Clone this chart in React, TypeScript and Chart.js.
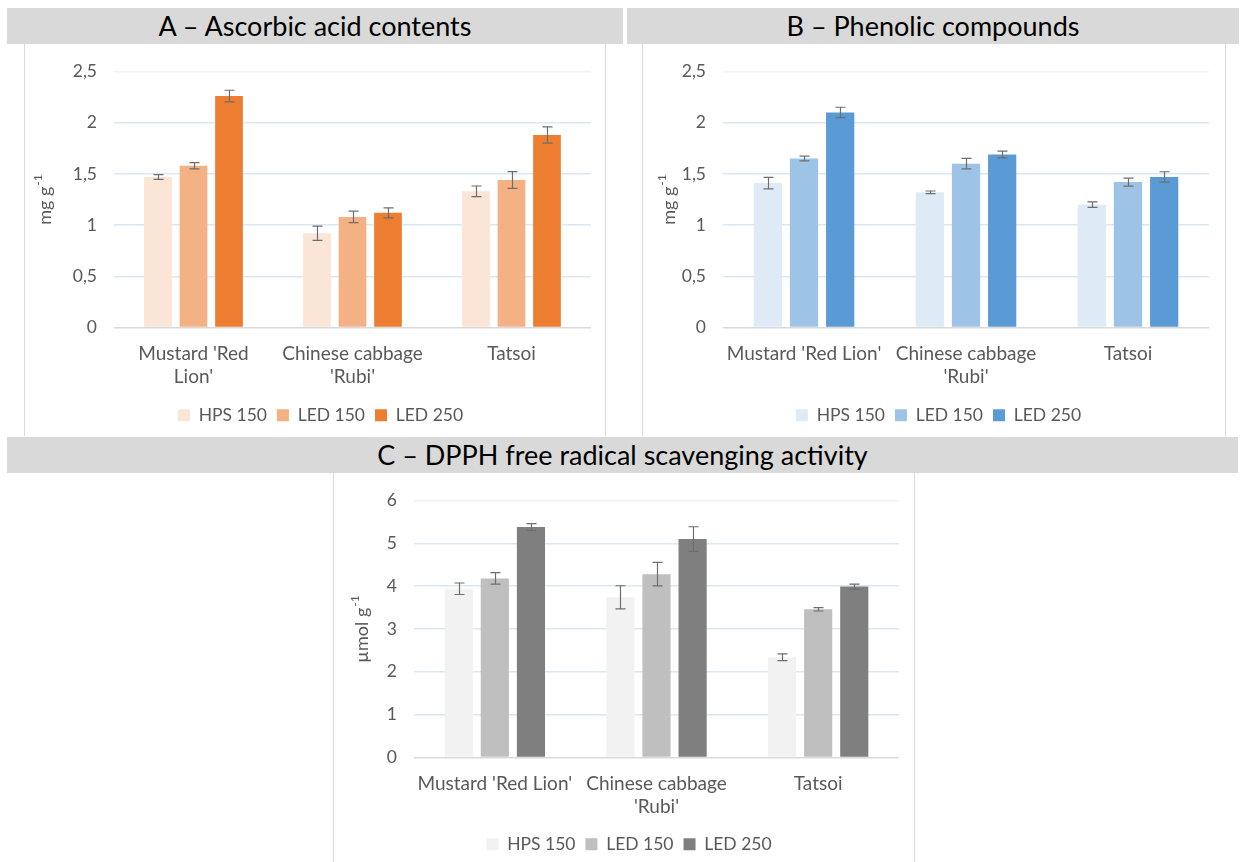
import React, { useEffect, useRef } from "react";
import { Chart, registerables } from "chart.js";

Chart.register(...registerables);

const FONT = "Lato, 'Open Sans', sans-serif";

// ---- data ----
const categoriesA = [["Mustard 'Red", "Lion'"], ["Chinese cabbage", "'Rubi'"], "Tatsoi"];
const categoriesBC = ["Mustard 'Red Lion'", ["Chinese cabbage", "'Rubi'"], "Tatsoi"];
const seriesNames = ["HPS 150", "LED 150", "LED 250"];

const ascorbicHPS150 = [1.47, 0.92, 1.33];
const ascorbicLED150 = [1.58, 1.08, 1.44];
const ascorbicLED250 = [2.26, 1.12, 1.88];
const ascorbicErrHPS150 = [0.023, 0.07, 0.052];
const ascorbicErrLED150 = [0.031, 0.056, 0.082];
const ascorbicErrLED250 = [0.057, 0.049, 0.079];

const phenolicHPS150 = [1.41, 1.32, 1.2];
const phenolicLED150 = [1.65, 1.6, 1.42];
const phenolicLED250 = [2.1, 1.69, 1.47];
const phenolicErrHPS150 = [0.056, 0.013, 0.026];
const phenolicErrLED150 = [0.023, 0.051, 0.039];
const phenolicErrLED250 = [0.051, 0.033, 0.051];

const dpphHPS150 = [3.94, 3.74, 2.34];
const dpphLED150 = [4.18, 4.28, 3.46];
const dpphLED250 = [5.38, 5.1, 3.99];
const dpphErrHPS150 = [0.134, 0.27, 0.079];
const dpphErrLED150 = [0.134, 0.275, 0.04];
const dpphErrLED250 = [0.079, 0.287, 0.059];

const ticksAB = [0, 0.5, 1, 1.5, 2, 2.5];
const ticksC = [0, 1, 2, 3, 4, 5, 6];

const orangeColors = ["#fbe5d6", "#f4b183", "#ed7d31"];
const blueColors = ["#deebf7", "#9dc3e6", "#5b9bd5"];
const greyColors = ["#f2f2f2", "#bfbfbf", "#7f7f7f"];

// ---- plugins ----
const errorBarPlugin = {
  id: "errorBars",
  afterDatasetsDraw(chart: any) {
    const ctx = chart.ctx;
    const yScale = chart.scales.y;
    ctx.save();
    ctx.strokeStyle = "#6e6e6e";
    ctx.lineWidth = 1.2;
    chart.data.datasets.forEach((ds: any, i: number) => {
      const meta = chart.getDatasetMeta(i);
      meta.data.forEach((bar: any, j: number) => {
        const v = ds.data[j];
        const e = ds.errors[j];
        const x = Math.round(bar.x) + 0.5;
        const yt = yScale.getPixelForValue(v + e);
        const yb = yScale.getPixelForValue(v - e);
        const cap = 5;
        ctx.beginPath();
        ctx.moveTo(x, yt);
        ctx.lineTo(x, yb);
        ctx.moveTo(x - cap, yt);
        ctx.lineTo(x + cap, yt);
        ctx.moveTo(x - cap, yb);
        ctx.lineTo(x + cap, yb);
        ctx.stroke();
      });
    });
    ctx.restore();
  },
};

const unitTitlePlugin = {
  id: "unitTitle",
  afterDraw(chart: any, _args: any, opts: any) {
    const ctx = chart.ctx;
    const area = chart.chartArea;
    const cy = (area.top + area.bottom) / 2;
    ctx.save();
    ctx.translate(opts.x, cy);
    ctx.rotate(-Math.PI / 2);
    ctx.fillStyle = "#595959";
    ctx.textBaseline = "middle";
    ctx.textAlign = "left";
    const baseFont = `18px ${FONT}`;
    const supFont = `12px ${FONT}`;
    ctx.font = baseFont;
    const wb = ctx.measureText(opts.text).width;
    ctx.font = supFont;
    const ws = ctx.measureText(opts.sup).width;
    const start = -(wb + ws + 1) / 2;
    ctx.font = baseFont;
    ctx.fillText(opts.text, start, 0);
    ctx.font = supFont;
    ctx.fillText(opts.sup, start + wb + 1, -7);
    ctx.restore();
  },
};

const PAD_LEFT = 25;

function makeConfig(
  labels: any[],
  series: number[][],
  errors: number[][],
  colors: string[],
  ticks: number[],
  p: { left: number; right: number; unit: string; sup: string; titleX: number; xHeight: number }
) {
  const fmt = (v: number) => String(v).replace(".", ",");
  return {
    type: "bar",
    data: {
      labels,
      datasets: series.map((d, i) => ({
        label: seriesNames[i],
        data: d,
        errors: errors[i],
        backgroundColor: colors[i],
        borderWidth: 0,
        categoryPercentage: 0.67,
        barPercentage: 0.78,
      })),
    },
    options: {
      responsive: false,
      animation: false,
      events: [],
      layout: { padding: { top: 27, right: p.right, left: PAD_LEFT, bottom: 2 } },
      plugins: {
        legend: {
          position: "bottom",
          labels: {
            boxWidth: 12,
            boxHeight: 12,
            padding: 10,
            color: "#595959",
            font: { family: FONT, size: 17.5 },
          },
        },
        tooltip: { enabled: false },
        unitTitle: { text: p.unit, sup: p.sup, x: p.titleX },
      },
      scales: {
        x: {
          grid: { display: false, drawTicks: false },
          border: { display: false },
          ticks: {
            color: "#595959",
            font: { family: FONT, size: 19 },
            padding: 15,
            maxRotation: 0,
            autoSkip: false,
          },
          afterFit: (s: any) => {
            s.height = p.xHeight;
          },
        },
        y: {
          min: ticks[0],
          max: ticks[ticks.length - 1],
          afterBuildTicks: (s: any) => {
            s.ticks = ticks.map((v) => ({ value: v }));
          },
          grid: {
            drawTicks: false,
            lineWidth: 1.5,
            color: (c: any) =>
              c.tick && c.tick.value === 0
                ? "#d9d9d9"
                : c.index === ticks.length - 1
                ? "#eef4fa"
                : "#dae7f4",
          },
          border: { display: false },
          ticks: {
            color: "#595959",
            font: { family: FONT, size: 17.5 },
            padding: 17,
            callback: (v: any) => fmt(v),
          },
          afterFit: (s: any) => {
            s.width = p.left - PAD_LEFT;
          },
        },
      },
    },
    plugins: [errorBarPlugin, unitTitlePlugin],
  };
}

function ChartCanvas({ width, height, config }: { width: number; height: number; config: any }) {
  const ref = useRef<HTMLCanvasElement | null>(null);
  useEffect(() => {
    if (!ref.current) return;
    const chart = new Chart(ref.current, config);
    return () => chart.destroy();
  }, []);
  return <canvas ref={ref} width={width} height={height} style={{ display: "block", width, height }} />;
}

function TitleBar({ left, top, width, text }: { left: number; top: number; width: number; text: string }) {
  return (
    <div
      style={{
        position: "absolute",
        left,
        top,
        width,
        height: 36,
        background: "#d9d9d9",
        color: "#000",
        fontFamily: FONT,
        fontSize: 27,
        lineHeight: "36px",
        textAlign: "center",
      }}
    >
      {text}
    </div>
  );
}

function Box({
  left,
  top,
  width,
  height,
  borderBottom,
  children,
}: {
  left: number;
  top: number;
  width: number;
  height: number;
  borderBottom: boolean;
  children: any;
}) {
  return (
    <div
      style={{
        position: "absolute",
        left,
        top,
        width,
        height,
        background: "#fff",
        borderLeft: "1px solid #d9d9d9",
        borderRight: "1px solid #d9d9d9",
        borderBottom: borderBottom ? "1px solid #d9d9d9" : "none",
      }}
    >
      {children}
    </div>
  );
}

export default function App() {
  const cfgA = makeConfig(
    categoriesA,
    [ascorbicHPS150, ascorbicLED150, ascorbicLED250],
    [ascorbicErrHPS150, ascorbicErrLED150, ascorbicErrLED250],
    orangeColors,
    ticksAB,
    { left: 89, right: 14, unit: "mg g", sup: "-1", titleX: 20, xHeight: 69 }
  );
  const cfgB = makeConfig(
    categoriesBC,
    [phenolicHPS150, phenolicLED150, phenolicLED250],
    [phenolicErrHPS150, phenolicErrLED150, phenolicErrLED250],
    blueColors,
    ticksAB,
    { left: 80, right: 16, unit: "mg g", sup: "-1", titleX: 26, xHeight: 69 }
  );
  const cfgC = makeConfig(
    categoriesBC,
    [dpphHPS150, dpphLED150, dpphLED250],
    [dpphErrHPS150, dpphErrLED150, dpphErrLED250],
    greyColors,
    ticksC,
    { left: 80, right: 15, unit: "µmol g", sup: "-1", titleX: 28, xHeight: 68 }
  );

  return (
    <div style={{ position: "absolute", left: 0, top: 0, width: 1241, height: 862, background: "#fff", overflow: "hidden" }}>
      <TitleBar left={7} top={8} width={616} text="A – Ascorbic acid contents" />
      <TitleBar left={627} top={8} width={612} text="B – Phenolic compounds" />
      <Box left={24} top={44} width={580} height={392} borderBottom={false}>
        <ChartCanvas width={580} height={392} config={cfgA} />
      </Box>
      <Box left={642} top={44} width={582} height={392} borderBottom={false}>
        <ChartCanvas width={582} height={392} config={cfgB} />
      </Box>
      <TitleBar left={7} top={437} width={1231} text="C – DPPH free radical scavenging activity" />
      <Box left={333} top={473} width={580} height={392} borderBottom={false}>
        <ChartCanvas width={580} height={392} config={cfgC} />
      </Box>
    </div>
  );
}
